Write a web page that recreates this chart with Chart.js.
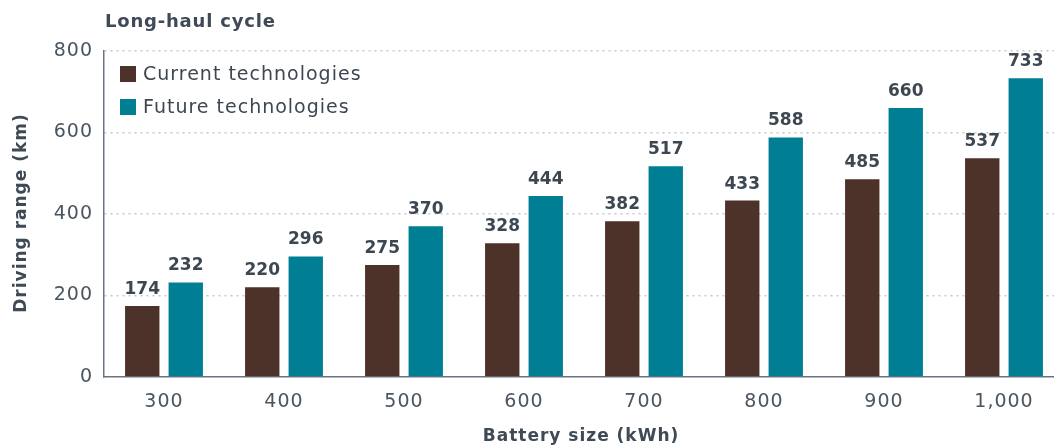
<!DOCTYPE html>
<html>
<head>
<meta charset="utf-8">
<script src="https://cdn.jsdelivr.net/npm/chart.js@4"></script>
<style>
  html, body { margin: 0; padding: 0; background: #fff; overflow: hidden; }
  #wrap { width: 1054px; height: 447px; overflow: hidden; }
</style>
</head>
<body>
<div id="wrap"><canvas id="chartRange" width="1064" height="447"></canvas></div>
<script>
// dados
const categorias = ['300', '400', '500', '600', '700', '800', '900', '1,000'];
const atuais = [174, 220, 275, 328, 382, 433, 485, 537];
const futuras = [232, 296, 370, 444, 517, 588, 660, 733];
const yTicks = [0, 200, 400, 600, 800];

const FONT = 'DejaVu Sans';
const TXT = '#3d4752';

// rótulos de valor, legenda interna, títulos
const extras = {
  id: 'extras',
  beforeDraw(chart) {
    chart.ctx.letterSpacing = '1px';   // números mais largos, como no original
  },
  afterDatasetsDraw(chart) {
    const c = chart.ctx;
    const area = chart.chartArea;
    c.save();
    c.letterSpacing = '0px';
    c.font = `bold 17px "${FONT}"`;
    c.fillStyle = TXT;
    c.textAlign = 'center';
    c.textBaseline = 'alphabetic';
    chart.data.datasets.forEach((ds, i) => {
      chart.getDatasetMeta(i).data.forEach((bar, j) => {
        c.fillText(String(ds.data[j]), bar.x, bar.y - 12);
      });
    });
    // legenda
    c.letterSpacing = '1px';
    c.textAlign = 'left';
    c.textBaseline = 'middle';
    c.font = `19px "${FONT}"`;
    chart.data.datasets.forEach((ds, i) => {
      const y = 74 + i * 33;
      c.fillStyle = ds.backgroundColor;
      c.fillRect(120, y - 8, 16, 16);
      c.fillStyle = TXT;
      c.fillText(ds.label, 143, y + 1);
    });
    // título
    c.letterSpacing = '0.8px';
    c.font = `bold 18px "${FONT}"`;
    c.fillStyle = '#3f4a56';
    c.fillText('Long-haul cycle', 105, 22);
    // títulos dos eixos
    c.letterSpacing = '1px';
    c.font = `bold 17px "${FONT}"`;
    c.textAlign = 'center';
    c.fillText('Battery size (kWh)', 581, 437);
    c.translate(22, (area.top + area.bottom) / 2 - 1);
    c.rotate(-Math.PI / 2);
    c.fillText('Driving range (km)', 0, 0);
    c.restore();
  }
};

const ctx = document.getElementById('chartRange').getContext('2d');
new Chart(ctx, {
  type: 'bar',
  data: {
    labels: categorias,
    datasets: [
      { label: 'Current technologies', data: atuais, backgroundColor: '#4c3228',
        categoryPercentage: 0.725, barPercentage: 0.79 },
      { label: 'Future technologies', data: futuras, backgroundColor: '#007e93',
        categoryPercentage: 0.725, barPercentage: 0.79 }
    ]
  },
  options: {
    responsive: false,
    animation: false,
    layout: { padding: { top: 51, left: 0, right: 0, bottom: 0 } },
    plugins: {
      legend: { display: false },
      tooltip: { enabled: false },
      title: { display: false }
    },
    scales: {
      x: {
        afterFit: s => { s.height = 70; },
        grid: { display: false },
        border: { color: '#6b7580', width: 1.5 },
        ticks: { font: { family: FONT, size: 19 }, color: '#4a5560', padding: 6 }
      },
      y: {
        min: 0, max: 800,
        afterFit: s => { s.width = 104; },
        afterBuildTicks: s => { s.ticks = yTicks.map(v => ({ value: v })); },
        border: { color: '#6b7580', width: 1.5, dash: [2, 4] },
        grid: {
          color: ctx => ctx.tick && ctx.tick.value === 0 ? 'rgba(0,0,0,0)' : '#c4c8cc',
          drawTicks: false,
          lineWidth: 1.5
        },
        ticks: { font: { family: FONT, size: 19 }, color: '#4a5560', padding: 11 }
      }
    }
  },
  plugins: [extras]
});
</script>
</body>
</html>
